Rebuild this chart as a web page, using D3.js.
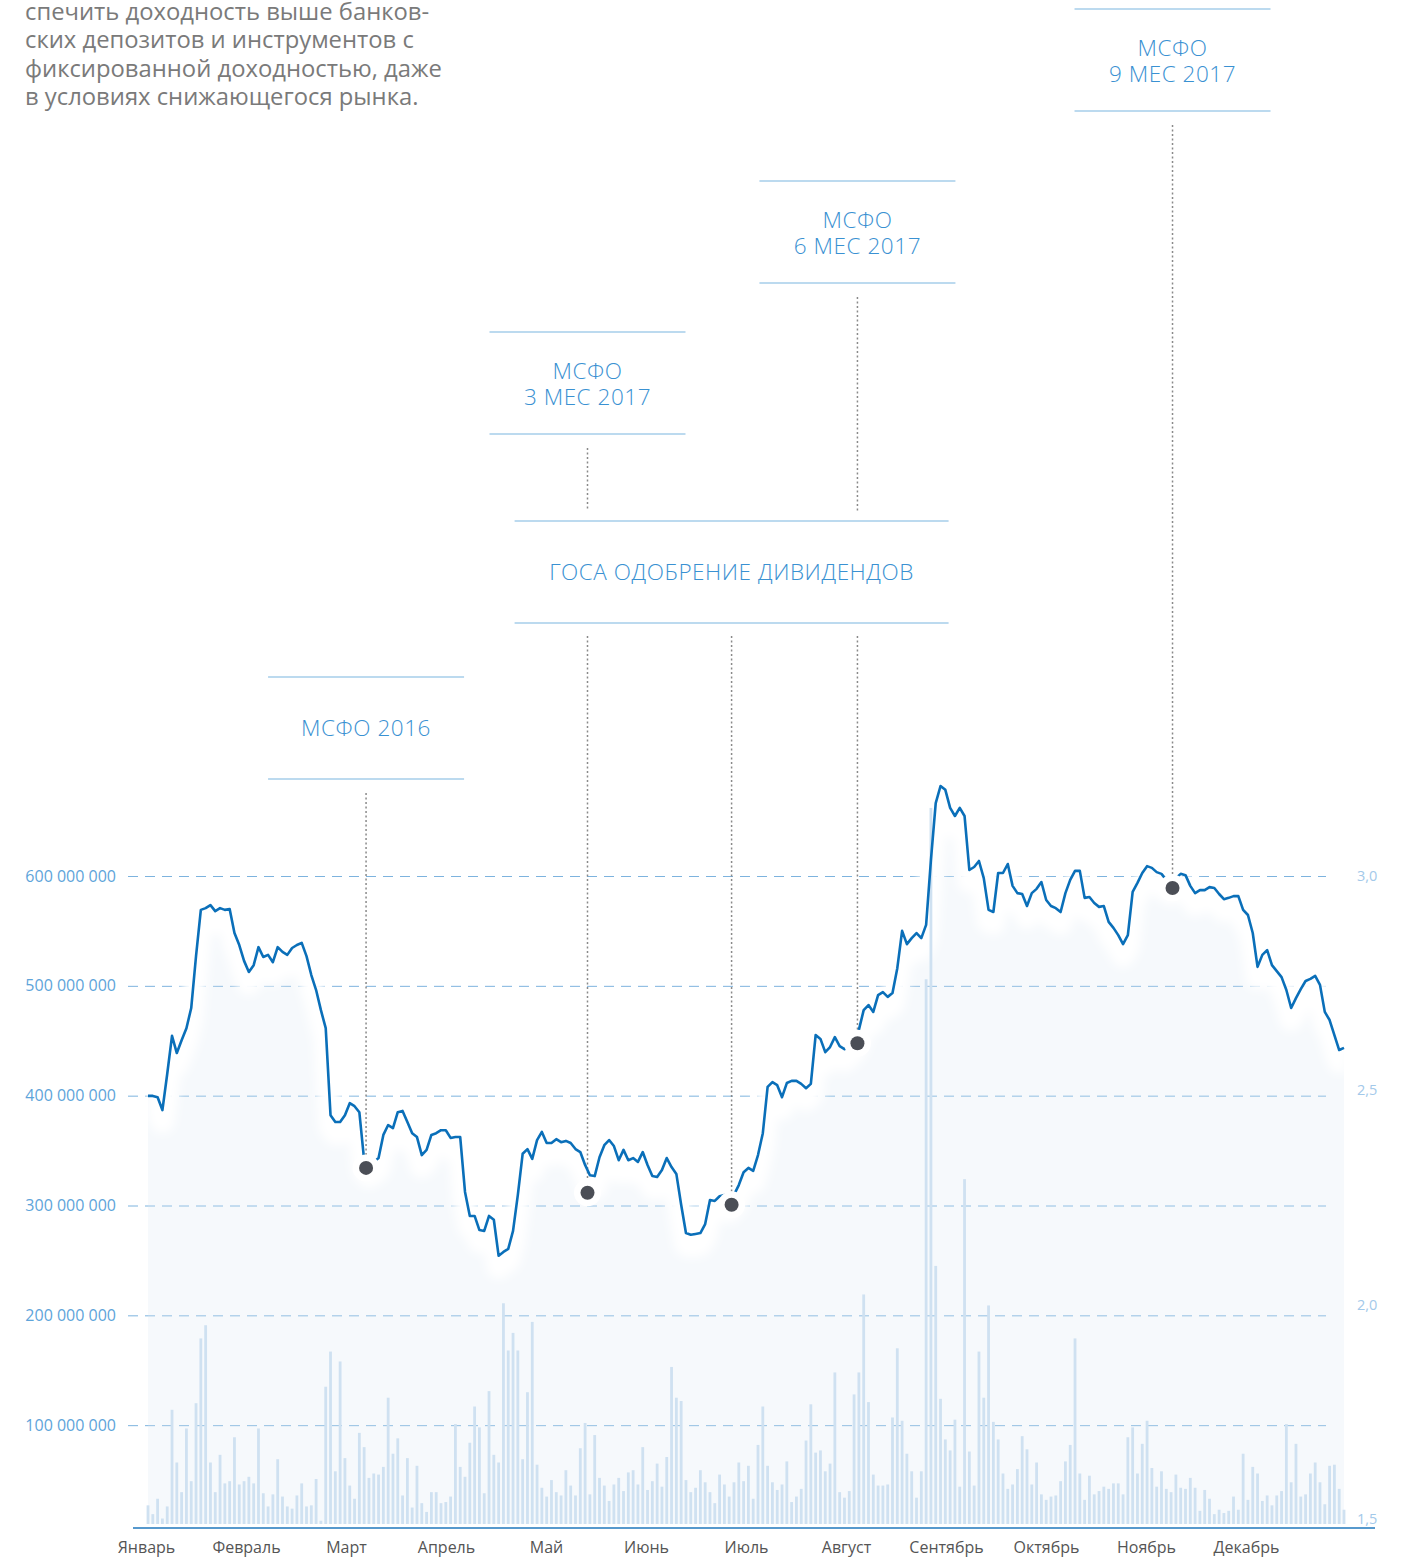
<!DOCTYPE html>
<html>
<head>
<meta charset="utf-8">
<script src="https://cdn.jsdelivr.net/npm/d3@7"></script>
<style>
  body { margin: 0; background: #fff; }
  svg { display: block; font-family: "Open Sans", sans-serif; }
</style>
</head>
<body>
<div id="chart"></div>
<script>
// initialize variables for svg measurements
var svgWidth = 1414;
var svgHeight = 1557;

// text above the chart
var introLines = [
    "спечить доходность выше банков-",
    "ских депозитов и инструментов с",
    "фиксированной доходностью, даже",
    "в условиях снижающегося рынка."
];

var months = ["Январь", "Февраль", "Март", "Апрель", "Май", "Июнь",
    "Июль", "Август", "Сентябрь", "Октябрь", "Ноябрь", "Декабрь"];

var volumeTicks = [100000000, 200000000, 300000000, 400000000, 500000000, 600000000];
var priceTicks = [1.5, 2.0, 2.5, 3.0];

// daily trading volume, millions of shares
var volumes = [
    27, 19, 33, 15, 26, 114, 66, 39, 97, 49,
    120, 179, 191, 66, 39, 73, 47, 49, 89, 46,
    49, 53, 47, 97, 38, 26, 37, 69, 35, 26,
    24, 36, 47, 26, 27, 51, 13, 135, 167, 58,
    158, 70, 45, 33, 93, 80, 52, 56, 55, 62,
    125, 74, 88, 36, 70, 25, 63, 29, 21, 39,
    39, 29, 30, 35, 101, 62, 53, 84, 117, 98,
    38, 131, 73, 66, 211, 168, 184, 168, 69, 130,
    194, 64, 43, 35, 50, 39, 36, 59, 45, 36,
    79, 102, 37,
    91, 52, 45, 31, 46, 52, 40, 57, 59, 46,
    80, 41, 49, 65, 44, 71, 153, 125, 122, 50,
    39, 43, 59, 48, 39, 29, 55, 46, 35, 48,
    66, 49, 63, 33, 82, 117, 63, 48, 41, 46,
    67, 30, 35, 42, 86, 119, 75, 77, 58, 65,
    148, 39, 34, 40, 128, 148, 219, 121, 55, 45,
    45, 46, 107, 170, 104, 74, 58, 34, 58,
    506, 662, 245, 124, 87, 77, 105, 44, 324, 76,
    45, 167, 125, 209, 103,
    87, 56, 42, 46, 60, 90, 78, 46, 66, 37,
    32, 35, 36, 49, 67, 82, 179, 56, 32, 54,
    37, 40, 44, 42, 47, 47, 37, 89, 98, 56,
    83, 104, 61, 44, 58, 42, 39, 55, 43, 42,
    52, 43, 22, 41, 33, 19, 23, 20, 22, 35,
    23, 74, 32, 62, 56, 31, 36, 27, 36, 40,
    101, 48, 83, 35, 37, 56, 66, 48, 28, 63,
    64, 42, 23
];

// daily close price, rub
var prices = [
    2.487, 2.487, 2.484, 2.454, 2.538, 2.627, 2.587, 2.617, 2.645, 2.692,
    2.813, 2.921, 2.925, 2.932, 2.918, 2.925, 2.921, 2.923, 2.867, 2.839,
    2.802, 2.776, 2.792, 2.834, 2.811, 2.816, 2.799, 2.834, 2.823, 2.816,
    2.832, 2.839, 2.844, 2.813, 2.769, 2.734, 2.687, 2.645, 2.442, 2.426,
    2.426, 2.442, 2.470, 2.463, 2.449, 2.337, 2.326, 2.333, 2.342, 2.396,
    2.419, 2.412, 2.449, 2.452, 2.426, 2.400, 2.391, 2.349, 2.361, 2.396,
    2.400, 2.407, 2.407, 2.389, 2.391, 2.391, 2.263, 2.207, 2.207, 2.174,
    2.172, 2.207, 2.198, 2.114, 2.123, 2.130, 2.172, 2.256, 2.352, 2.363,
    2.340, 2.384, 2.403, 2.377, 2.377, 2.386, 2.379, 2.382, 2.377, 2.363,
    2.356, 2.326, 2.302, 2.300, 2.344, 2.372, 2.384, 2.370, 2.337, 2.361,
    2.337, 2.342, 2.333, 2.356, 2.326, 2.300, 2.298, 2.314, 2.342, 2.321,
    2.305, 2.233, 2.167, 2.163, 2.165, 2.167, 2.188, 2.244, 2.242, 2.253,
    2.256, 2.244, 2.256, 2.279, 2.309, 2.319, 2.312, 2.349, 2.400, 2.508,
    2.519, 2.512, 2.484, 2.517, 2.522, 2.522, 2.515, 2.505, 2.515, 2.629,
    2.620, 2.589, 2.601, 2.624, 2.603, 2.596, 2.606, 2.617, 2.641, 2.687,
    2.699, 2.683, 2.722, 2.729, 2.718, 2.727, 2.785, 2.872, 2.841, 2.855,
    2.867, 2.855, 2.886, 3.037, 3.170, 3.210, 3.201, 3.159, 3.140, 3.159,
    3.140, 3.014, 3.021, 3.035, 2.995, 2.921, 2.916, 3.007, 3.007, 3.028,
    2.977, 2.960, 2.958, 2.930, 2.960, 2.970, 2.986, 2.944, 2.930, 2.925,
    2.916, 2.960, 2.991, 3.012, 3.012, 2.949, 2.951, 2.937, 2.928, 2.930,
    2.893, 2.879, 2.862, 2.841, 2.862, 2.963, 2.984, 3.007, 3.023, 3.019,
    3.009, 3.005, 2.991, 2.986, 2.995, 3.005, 3.002, 2.977, 2.960, 2.967,
    2.967, 2.974, 2.972, 2.958, 2.946, 2.949, 2.953, 2.953, 2.921, 2.909,
    2.867, 2.788, 2.816, 2.827, 2.792, 2.778, 2.764, 2.734, 2.692, 2.715,
    2.736, 2.755, 2.760, 2.767, 2.746, 2.683, 2.664, 2.629, 2.594, 2.599
];

// corporate events: trading day index and marker price
var eventDays = [45.4, 91.5, 121.5, 147.7, 213.3];
var eventPrices = [2.319, 2.261, 2.233, 2.610, 2.972];

// report notes and the event each one points to
var noteLabels = [["МСФО 2016"], ["МСФО", "3 МЕС 2017"], ["МСФО", "6 МЕС 2017"], ["МСФО", "9 МЕС 2017"]];
var noteEvents = [0, 1, 3, 4];
var agmLabel = "ГОСА ОДОБРЕНИЕ ДИВИДЕНДОВ";
var agmEvents = [1, 2, 3];

// layout for the note boxes
var noteTops = [677, 332, 181, 9];
var agmTop = 521;
var boxHeight = 102;

var ru = d3.formatLocale({decimal: ",", thousands: " ", grouping: [3], currency: ["", ""]});
var volFormat = ru.format(",");
var priceFormat = ru.format(".1f");

// Create a SVG wrapper
var svg = d3
    .select("#chart")
    .append("svg")
    .attr("width", svgWidth)
    .attr("height", svgHeight);

svg.append("defs")
    .append("filter")
    .attr("id", "halo")
    .attr("x", "-5%").attr("y", "-20%")
    .attr("width", "110%").attr("height", "140%")
    .append("feGaussianBlur")
    .attr("stdDeviation", 5);

//scales
var xScale = d3.scaleLinear().domain([0, prices.length - 1]).range([148, 1344]);
var volScale = d3.scaleLinear().domain([0, 600000000]).range([1535, 876]);
var priceScale = d3.scaleLinear().domain([1.5, 3.0]).range([1519, 876]);
var monthScale = d3.scalePoint().domain(months).range([146, 1246]);
var barBase = 1524;

// intro text
svg.append("g")
    .selectAll("text")
    .data(introLines)
    .enter()
    .append("text")
    .attr("x", 25)
    .attr("y", (d, i) => 20 + i * 28.3)
    .attr("fill", "#7a7a7a")
    .attr("font-size", 23.8)
    .text(d => d);

// volume axis with dashed gridlines
var leftAxis = d3.axisLeft(volScale)
    .tickValues(volumeTicks)
    .tickSize(-1198)
    .tickPadding(12)
    .tickFormat(volFormat);

var gridG = svg.append("g")
    .attr("transform", "translate(128,0)")
    .call(leftAxis);
gridG.attr("font-family", null).attr("font-size", 16);
gridG.select(".domain").remove();
gridG.selectAll(".tick line")
    .attr("stroke", "#7db3de")
    .attr("stroke-dasharray", "10,7");
gridG.selectAll(".tick text").attr("fill", "#5ea4da");

// price axis on the right
var rightAxis = d3.axisRight(priceScale)
    .tickValues(priceTicks)
    .tickSize(0)
    .tickPadding(0)
    .tickFormat(priceFormat);

var priceG = svg.append("g")
    .attr("transform", "translate(1357,0)")
    .call(rightAxis);
priceG.attr("font-family", null).attr("font-size", 14.5);
priceG.select(".domain").remove();
priceG.selectAll(".tick text").attr("fill", "#a3c9ea");

// area under the price line
var area = d3.area()
    .x((d, i) => xScale(i))
    .y0(barBase)
    .y1(d => priceScale(d));

svg.append("path")
    .datum(prices)
    .attr("d", area)
    .attr("fill", "#dbe7f2")
    .attr("fill-opacity", 0.24);

var line = d3.line()
    .x((d, i) => xScale(i))
    .y(d => priceScale(d));

// soft white shadow under the line
svg.append("path")
    .datum(prices)
    .attr("d", line)
    .attr("fill", "none")
    .attr("stroke", "#fff")
    .attr("stroke-width", 24)
    .attr("stroke-linejoin", "round")
    .attr("transform", "translate(0,11)")
    .attr("filter", "url(#halo)");

// volume bars
svg.append("g")
    .selectAll("rect")
    .data(volumes)
    .enter()
    .append("rect")
    .attr("x", (d, i) => xScale(i) - 1.4)
    .attr("width", 2.8)
    .attr("y", d => volScale(d * 1e6))
    .attr("height", d => barBase - volScale(d * 1e6))
    .attr("fill", "#cfe1f1");

// bottom axis
svg.append("line")
    .attr("x1", 133).attr("x2", 1375)
    .attr("y1", 1528).attr("y2", 1528)
    .attr("stroke", "#1f77bc")
    .attr("stroke-width", 1.5);

var bottomAxis = d3.axisBottom(monthScale).tickSize(0).tickPadding(14);
var monthG = svg.append("g")
    .attr("transform", "translate(0,1528)")
    .call(bottomAxis);
monthG.attr("font-family", null).attr("font-size", 16);
monthG.select(".domain").remove();
monthG.selectAll(".tick text").attr("fill", "#555");

// dotted leader lines from the notes down to the markers
var leaders = [];
eventDays.forEach(function(day, k) {
    var cx = xScale(day);
    var cy = priceScale(eventPrices[k]);
    var n = noteEvents.indexOf(k);
    var inAgm = agmEvents.indexOf(k) >= 0;
    if (n >= 0) {
        var start = noteTops[n] + boxHeight + 14;
        if (inAgm) {
            leaders.push({x: cx, y1: start, y2: agmTop - 10});
            leaders.push({x: cx, y1: agmTop + boxHeight + 13, y2: cy});
        } else {
            leaders.push({x: cx, y1: start, y2: cy});
        }
    } else {
        leaders.push({x: cx, y1: agmTop + boxHeight + 13, y2: cy});
    }
});

svg.append("g")
    .selectAll("line")
    .data(leaders)
    .enter()
    .append("line")
    .attr("x1", d => d.x).attr("x2", d => d.x)
    .attr("y1", d => d.y1).attr("y2", d => d.y2)
    .attr("stroke", "#8a8a8a")
    .attr("stroke-width", 1.5)
    .attr("stroke-dasharray", "2,2.5");

// price line
svg.append("path")
    .datum(prices)
    .attr("d", line)
    .attr("fill", "none")
    .attr("stroke", "#0a6fb9")
    .attr("stroke-width", 2.6)
    .attr("stroke-linejoin", "round");

// event markers with white ring that cuts the line
var markers = svg.append("g")
    .selectAll("g")
    .data(eventDays)
    .enter()
    .append("g")
    .attr("transform", (d, i) => "translate(" + xScale(d) + "," + priceScale(eventPrices[i]) + ")");
markers.append("circle").attr("r", 13.5).attr("fill", "#fff");
markers.append("circle").attr("r", 7).attr("fill", "#4b4e56");

// note boxes
var noteColor = "#3a91d2";
var ruleColor = "#7ab5e0";

function drawBox(cx, halfWidth, top, lines) {
    var g = svg.append("g");
    [top, top + boxHeight].forEach(function(y) {
        g.append("line")
            .attr("x1", cx - halfWidth).attr("x2", cx + halfWidth)
            .attr("y1", y).attr("y2", y)
            .attr("stroke", ruleColor)
            .attr("stroke-width", 1.2);
    });
    var first = lines.length == 1 ? top + 59 : top + 47;
    lines.forEach(function(t, i) {
        g.append("text")
            .attr("x", cx)
            .attr("y", first + i * 26)
            .attr("text-anchor", "middle")
            .attr("fill", noteColor)
            .attr("font-size", 22.5)
            .attr("font-weight", 300)
            .attr("letter-spacing", 0.55)
            .text(t);
    });
}

noteLabels.forEach(function(lines, n) {
    drawBox(xScale(eventDays[noteEvents[n]]), 98, noteTops[n], lines);
});
drawBox(xScale(eventDays[agmEvents[1]]), 217, agmTop, [agmLabel]);
</script>
</body>
</html>
